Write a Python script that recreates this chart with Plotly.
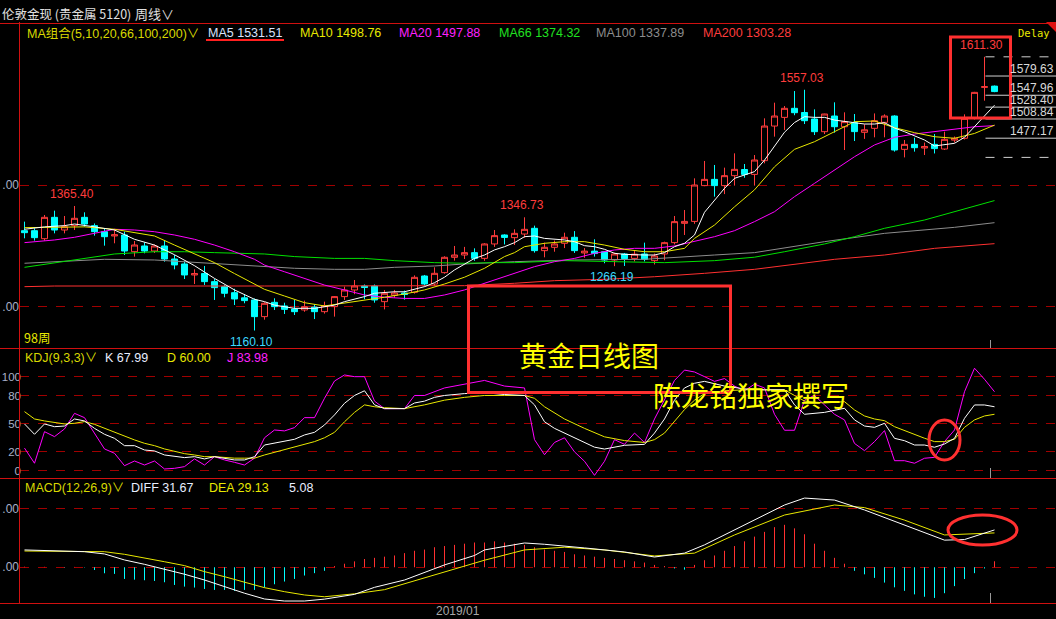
import plotly.graph_objects as go

# ------------------------------------------------------------------
# Weekly OHLC (London spot gold)
# ------------------------------------------------------------------
opens = [1324.7, 1324.7, 1311.5, 1346.7, 1325.8, 1333.0, 1346.7, 1333.0, 1323.1, 1316.0,
         1317.6, 1290.1, 1299.5, 1291.2, 1299.5, 1278.0, 1269.8, 1251.7, 1254.0, 1240.7,
         1232.4, 1222.5, 1214.0, 1210.5, 1183.0, 1206.6, 1200.6, 1195.5, 1194.0, 1198.6,
         1191.2, 1199.5, 1216.0, 1226.9, 1233.5, 1233.5, 1207.7, 1218.0, 1222.0, 1223.1,
         1250.0, 1236.8, 1255.5, 1280.8, 1284.6, 1288.5, 1279.1, 1302.8, 1317.6, 1313.2,
         1319.2, 1328.6, 1291.8, 1297.3, 1303.9, 1313.8, 1288.0, 1291.0, 1290.0, 1276.4,
         1286.3, 1279.0, 1286.3, 1275.3, 1286.3, 1305.0, 1336.8, 1340.0, 1399.0, 1409.3,
         1399.0, 1415.4, 1425.5, 1417.5, 1440.1, 1497.2, 1511.5, 1526.4, 1519.5, 1508.8,
         1487.9, 1513.7, 1496.0, 1502.8, 1486.8, 1493.4, 1503.3, 1513.7, 1458.8, 1467.0,
         1461.0, 1467.0, 1459.3, 1474.0, 1477.0, 1509.9, 1561.0, 1563.0]
highs = [1339.6, 1328.6, 1350.6, 1357.7, 1348.9, 1365.4, 1355.0, 1336.6, 1328.6, 1327.0,
         1323.1, 1307.7, 1305.5, 1302.0, 1309.4, 1284.6, 1273.6, 1261.0, 1266.5, 1245.0,
         1235.0, 1229.0, 1219.8, 1213.0, 1207.0, 1213.2, 1206.0, 1210.5, 1209.4, 1203.3,
         1207.7, 1217.0, 1232.4, 1243.4, 1236.0, 1236.0, 1226.9, 1227.0, 1226.0, 1251.0,
         1251.7, 1264.3, 1282.5, 1299.5, 1298.0, 1295.6, 1304.0, 1325.8, 1318.7, 1326.9,
         1346.73, 1333.0, 1305.0, 1308.5, 1321.4, 1324.0, 1296.0, 1310.5, 1290.5, 1288.5,
         1288.0, 1291.5, 1305.0, 1287.0, 1306.6, 1348.9, 1358.8, 1411.0, 1439.6, 1433.0,
         1428.6, 1452.2, 1434.6, 1449.4, 1509.9, 1535.7, 1530.2, 1554.9, 1557.03, 1524.7,
         1517.5, 1536.3, 1519.8, 1517.0, 1500.0, 1518.0, 1516.5, 1515.0, 1474.2, 1478.0,
         1470.0, 1484.0, 1487.9, 1480.0, 1516.5, 1553.5, 1611.30, 1564.0]
lows = [1312.1, 1308.3, 1308.3, 1320.3, 1320.3, 1325.8, 1331.3, 1316.5, 1300.0, 1303.9,
        1284.6, 1281.9, 1287.4, 1288.0, 1273.6, 1261.0, 1245.0, 1236.8, 1235.2, 1210.5,
        1214.9, 1202.2, 1205.0, 1160.10, 1178.0, 1194.0, 1187.4, 1185.7, 1191.0, 1179.0,
        1188.0, 1183.0, 1210.5, 1220.0, 1211.6, 1206.0, 1195.0, 1214.0, 1211.0, 1221.0,
        1233.0, 1234.0, 1253.8, 1275.3, 1278.0, 1275.0, 1275.0, 1298.0, 1302.0, 1301.1,
        1313.0, 1288.5, 1280.8, 1290.0, 1296.0, 1288.0, 1280.0, 1282.0, 1271.0, 1266.19,
        1266.5, 1274.0, 1274.0, 1269.0, 1276.0, 1302.0, 1317.6, 1336.0, 1398.0, 1380.8,
        1385.0, 1399.0, 1412.0, 1399.0, 1435.7, 1479.7, 1490.7, 1515.0, 1500.5, 1482.4,
        1484.0, 1486.3, 1457.7, 1472.5, 1476.0, 1478.6, 1478.6, 1455.0, 1445.5, 1455.0,
        1449.4, 1452.0, 1457.7, 1470.0, 1475.0, 1508.0, 1539.0, 1553.0]
closes = [1321.4, 1313.2, 1346.7, 1325.8, 1331.3, 1345.1, 1335.7, 1323.1, 1314.8, 1318.0,
          1291.2, 1301.1, 1291.2, 1299.5, 1278.0, 1268.2, 1251.7, 1254.0, 1240.7, 1230.8,
          1221.5, 1212.1, 1209.4, 1183.0, 1205.0, 1199.5, 1195.0, 1191.2, 1199.5, 1191.2,
          1201.1, 1216.0, 1226.9, 1233.5, 1231.0, 1210.5, 1221.5, 1222.0, 1219.5, 1247.8,
          1236.8, 1254.4, 1280.8, 1284.6, 1288.5, 1279.1, 1302.8, 1316.5, 1313.6, 1320.3,
          1326.9, 1291.8, 1297.3, 1302.8, 1313.8, 1291.8, 1291.0, 1287.0, 1276.4, 1286.3,
          1278.6, 1286.0, 1277.5, 1283.0, 1305.0, 1339.6, 1340.0, 1400.0, 1409.3, 1399.0,
          1415.4, 1425.8, 1417.5, 1441.2, 1497.2, 1513.7, 1526.4, 1519.2, 1506.0, 1487.9,
          1517.0, 1496.1, 1504.4, 1488.0, 1491.0, 1506.0, 1513.7, 1457.7, 1467.0, 1461.5,
          1463.5, 1460.0, 1475.3, 1477.0, 1509.9, 1552.7, 1562.0, 1554.0]
bars = list(range(len(closes)))

# ------------------------------------------------------------------
# Moving averages (bar index, value)
# ------------------------------------------------------------------
ma5_x = [0, 2, 4, 5, 7, 9, 11, 13, 15, 17, 19, 21, 23, 24, 25, 27, 29, 30, 31, 32, 34, 35, 37, 38, 39,
         40, 41, 42, 43, 44, 45, 46, 47, 48, 49, 50, 51, 52, 54, 55, 56, 57, 58, 59, 60, 62, 63, 64,
         65, 66, 67, 68, 69, 70, 71, 72, 73, 74, 75, 76, 77, 78, 79, 80, 81, 82, 83, 84, 85, 86, 87,
         88, 89, 90, 91, 92, 93, 94, 95, 96, 97]
ma5_v = [1327, 1331, 1333, 1335.7, 1331, 1325.8, 1310.5, 1301, 1285, 1267, 1246, 1227, 1211.6, 1207.7,
         1202, 1196.7, 1196.7, 1199.5, 1202, 1207.7, 1216, 1221.5, 1224, 1224, 1228, 1232.4, 1239,
         1248, 1260, 1269.8, 1279, 1284.6, 1293, 1298.3, 1305, 1314.8, 1316, 1312, 1309.4, 1306.6,
         1300, 1298.3, 1294, 1287.4, 1285.7, 1284.6, 1284.6, 1288.5, 1298.3, 1303.9, 1317.6, 1355,
         1375.3, 1394.5, 1411, 1416.5, 1422, 1441, 1463, 1487, 1503, 1512.6, 1511.5, 1511.5, 1507,
         1504.4, 1502.7, 1500.5, 1500.5, 1502.7, 1494, 1487.9, 1480.8, 1474.2, 1464.3, 1466, 1468.7,
         1478.6, 1496, 1512.6, 1531.51]
ma10_x = [0, 3, 6, 9, 11, 13, 15, 17, 19, 21, 23, 24, 26, 28, 30, 32, 34, 36, 38, 40, 42, 44, 46, 48,
          49, 50, 52, 54, 56, 58, 60, 62, 64, 66, 67, 69, 71, 73, 75, 77, 79, 81, 83, 85, 87, 89, 91,
          93, 95, 97]
ma10_v = [1329.7, 1330, 1331, 1327, 1321, 1316, 1301, 1287, 1272, 1254, 1237, 1228, 1217, 1206, 1200.6,
          1205, 1209.4, 1215, 1220.3, 1227, 1236.8, 1248, 1262.7, 1282, 1288.5, 1298.3, 1303.9, 1306.6,
          1306.6, 1301, 1294, 1290, 1290, 1295.6, 1312, 1334, 1364, 1392, 1430, 1458.8, 1471.4, 1488,
          1504.4, 1505.5, 1494.5, 1486.3, 1479.6, 1477, 1485, 1498.76]
ma20_x = [0, 3, 5, 7, 9, 11, 13, 15, 17, 19, 21, 23, 24, 26, 28, 30, 32, 34, 36, 38, 40, 42, 44, 46,
          48, 49, 51, 53, 55, 57, 59, 61, 63, 65, 67, 69, 71, 73, 75, 77, 79, 81, 83, 85, 87, 89, 91,
          93, 95, 97]
ma20_v = [1305, 1309.4, 1313.8, 1320.3, 1327, 1325.8, 1323, 1317.6, 1310.5, 1301, 1290, 1277.5, 1268,
          1257, 1246, 1235, 1227, 1218.7, 1215, 1213, 1213, 1218.7, 1227, 1238, 1250, 1255, 1265.4,
          1273.6, 1279, 1287.4, 1292.9, 1295.6, 1295.6, 1299.5, 1306.6, 1314.8, 1324.7, 1339.6, 1356,
          1380.8, 1402.7, 1424.7, 1446.6, 1466, 1478.6, 1484, 1487.9, 1491.8, 1496, 1497.88]
ma66_x = [0, 3, 6, 9, 13, 16, 19, 24, 27, 31, 34, 37, 41, 44, 47, 49, 54, 59, 64, 69, 73, 76, 80, 83,
          86, 90, 93, 97]
ma66_v = [1264.3, 1272, 1279.2, 1286.3, 1290, 1290, 1288.5, 1286.3, 1282, 1279, 1279, 1275.3, 1272,
          1271, 1272, 1272, 1275.3, 1273.6, 1272, 1275.3, 1281, 1290, 1302.8, 1314.8, 1328.6, 1342.3,
          1356, 1374.32]
ma100_x = [0, 3, 8, 13, 16, 19, 24, 27, 31, 34, 37, 41, 44, 49, 55, 62, 69, 73, 80, 86, 93, 97]
ma100_v = [1271, 1273.6, 1277.5, 1276.4, 1273.6, 1271, 1266.5, 1262.7, 1261, 1261, 1264.3, 1266.5,
           1269.8, 1273.6, 1276.4, 1277.5, 1284.6, 1288.5, 1306.6, 1320.3, 1330.2, 1337.89]
ma200_x = [0, 3, 24, 34, 44, 49, 53, 58, 63, 68, 73, 81, 86, 91, 97]
ma200_v = [1232.4, 1233.5, 1233.5, 1233.5, 1234, 1238, 1242.3, 1244.5, 1248.8, 1254.4, 1261, 1277.5,
           1284.6, 1295.6, 1303.28]

# ------------------------------------------------------------------
# KDJ(9,3,3) (bar index, value)
# ------------------------------------------------------------------
k_x = [0, 1, 2, 3, 4, 5, 6, 7, 8, 9, 10, 11, 12, 13, 14, 15, 16, 17, 18, 19, 20, 21, 22, 23, 24, 25,
       26, 27, 28, 29, 30, 31, 32, 33, 34, 35, 36, 37, 38, 39, 40, 41, 42, 44, 46, 48, 50, 51, 52, 53,
       55, 57, 58, 60, 62, 63, 64, 65, 66, 67, 68, 70, 72, 74, 76, 77, 78, 80, 82, 83, 84, 85, 86, 87,
       88, 89, 90, 91, 92, 93, 94, 95, 96, 97]
k_v = [49.7, 38.7, 49.7, 46.8, 47.5, 55, 52.9, 45, 38.7, 34.4, 26.6, 26.6, 22, 21, 16.7, 14.9, 13.9,
       14.9, 12.5, 14.9, 13.3, 11.4, 11.4, 14.9, 27.3, 29.1, 30.9, 33.4, 38, 40.8, 48.6, 59.3, 71.7, 80,
       85, 70, 66, 66, 66, 72, 74, 78, 80, 82, 83, 81, 80, 70, 52, 45, 35, 25, 23, 27, 28, 40, 55, 75,
       88, 93, 95, 90, 87, 86, 86, 70, 60, 62, 66.4, 54, 47.5, 46.1, 50.4, 34.4, 31.9, 27.3, 27.3, 24.9,
       28.4, 34.4, 55.7, 69.9, 69.9, 67.99]
d_x = [0, 1, 2, 3, 4, 5, 6, 7, 8, 9, 10, 11, 12, 13, 14, 15, 16, 17, 18, 19, 20, 21, 22, 23, 24, 25,
       26, 27, 28, 29, 30, 31, 32, 33, 34, 35, 36, 38, 40, 42, 44, 46, 48, 50, 51, 52, 54, 56, 58, 60,
       62, 63, 64, 65, 66, 67, 68, 70, 72, 74, 76, 77, 78, 80, 82, 83, 84, 85, 86, 87, 88, 89, 90, 91,
       92, 93, 94, 95, 96, 97]
d_v = [62.8, 55, 52.9, 51.5, 49.7, 50.4, 52.2, 49.3, 45, 40.8, 36.2, 32.7, 29.1, 26.6, 23.1, 20.2,
       18.1, 16.7, 14.9, 14.9, 13.9, 13.3, 13.3, 13.3, 16.7, 19.5, 22, 25.5, 28, 30.9, 35, 40.8, 52, 62,
       70, 68, 67, 66, 70, 75, 78, 80, 80, 80, 77, 68, 55, 45, 36, 32, 30, 33, 40, 52, 65, 75, 82, 85,
       86, 86, 86, 80, 74, 72, 73.4, 64.6, 58.2, 55, 53.2, 46.8, 42.6, 38, 34.5, 30.9, 30.9, 33.4, 46.1,
       54, 58.2, 60.0]
j_x = [0, 1, 2, 3, 4, 5, 6, 7, 8, 9, 10, 11, 12, 13, 14, 15, 16, 17, 18, 19, 20, 21, 22, 23, 24, 25,
       26, 27, 28, 29, 30, 31, 32, 33, 34, 35, 36, 37, 38, 39, 40, 42, 44, 46, 48, 50, 51, 52, 53, 54,
       55, 56, 57, 58, 59, 60, 61, 62, 63, 64, 65, 66, 67, 68, 69, 70, 71, 72, 73, 74, 75, 76, 77, 78,
       79, 80, 81, 82, 83, 84, 85, 86, 87, 88, 89, 90, 91, 92, 93, 94, 95, 96, 97]
j_v = [24, 7.9, 41.5, 36.2, 44.4, 61, 56.4, 39.8, 23.1, 18.5, 5.3, 10.3, 6, 10.3, 1.8, 2.5, 4.3, 12.5,
       6, 14.9, 11.4, 8.9, 6, 13.3, 35, 43.3, 42.3, 45.8, 56.4, 56.4, 77, 95.4, 101.8, 100, 100, 74, 66,
       66, 66, 80, 80, 88, 92, 96, 90, 88, 33, 17, 30, 35, 20, 10, -5, 10, 33, 28, 40, 30, 55, 75, 96,
       107, 105, 100, 95, 98, 90, 85, 92, 88, 60, 43, 43, 75, 80, 70, 60, 54, 29, 21.3, 30.9, 42.6,
       10.6, 10.6, 7.9, 13.2, 14.2, 30.9, 43.3, 84, 109, 97.2, 83.98]

# ------------------------------------------------------------------
# MACD(12,26,9)
# ------------------------------------------------------------------
diff_x = [0, 6, 8, 10, 12, 14, 16, 18, 20, 22, 24, 26, 28, 30, 33, 35, 38, 42, 45, 46, 50, 52, 56, 60,
          63, 66, 68, 72, 76, 78, 81, 84, 88, 92, 94, 97]
diff_v = [14.7, 13.2, 11.3, 6.2, 2.5, -1.4, -5.9, -10.8, -16.4, -22, -26.9, -28.6, -28.6, -27, -23,
          -17, -10.8, 2, 10, 14.7, 20.6, 19.5, 16.4, 13, 8.7, 12, 19, 36, 52.8, 58.7, 57, 48.6, 36, 23,
          23.5, 31.67]
dea_x = [0, 8, 10, 12, 14, 16, 18, 20, 22, 24, 26, 28, 30, 33, 36, 41, 46, 50, 54, 58, 63, 67, 71, 76,
         81, 84, 88, 92, 97]
dea_v = [13.8, 13.2, 11, 8.1, 4.7, 1.4, -3.7, -8, -12.7, -17.3, -20.7, -23.5, -25, -22.5, -19, -6.5, 6,
         14.7, 17, 14.7, 9.6, 12, 27.4, 44.3, 52.8, 50.6, 40, 27.4, 29.13]
macd_hist = [0.5, 0, 0.4, 0, -0.3, 0.3, -0.3, -2.3, -5.1, -5.6, -9.9, -10.5, -11, -11.6, -12.7, -15,
             -16.4, -17.2, -18.4, -19.2, -19.2, -20, -19.2, -19.2, -17.2, -14.4, -12.1, -9.9, -7, -5,
             -3, 1, 3, 5, 7, 8, 9, 10, 12, 14, 15, 17, 18, 19, 20, 21, 21, 22, 21, 20, 19, 17, 15, 14,
             13, 11, 10, 9, 8, 7, 6, 5, 4, 2, 1, -1, -2, 2, 6, 10, 14, 18, 22, 26, 30, 34, 36, 33, 28,
             20, 14, 8, 3, -3, -6, -9, -13, -17, -20, -23, -25, -26, -22, -16, -10, -5, -1, 5.08]

# golden-section levels drawn at the right edge
fib_levels = [1611.30, 1579.63, 1547.96, 1528.40, 1508.84, 1477.17, 1445.50]
fib_labels = ["", "1579.63", "1547.96", "1528.40", "1508.84", "1477.17", ""]

# marked extremes: (bar, price, text, colour, above?)
extremes = [(5, 1365.40, "1365.40", "#ff3c3c", True),
            (23, 1160.10, "1160.10", "#3cd8ff", False),
            (50, 1346.73, "1346.73", "#ff3c3c", True),
            (59, 1266.19, "1266.19", "#3cd8ff", False),
            (78, 1557.03, "1557.03", "#ff3c3c", True),
            (96, 1611.30, "1611.30", "#ff3c3c", True)]

# ------------------------------------------------------------------
# Layout geometry (pixels)
# ------------------------------------------------------------------
W, H = 1056, 619
ML, MR, MT, MB = 20, 0, 22, 16
PW, PH = W - ML - MR, H - MT - MB


def fx(px):
    return (px - ML) / PW


def fy(py):
    return (H - MB - py) / PH


RED = "#d01010"
GRID = "#a00000"
FONT = "Liberation Sans, Noto Sans CJK SC, sans-serif"
CJK = "Noto Sans CJK SC, sans-serif"

fig = go.Figure()

# candles
fig.add_trace(go.Candlestick(
    x=bars, open=opens, high=highs, low=lows, close=closes,
    xaxis="x", yaxis="y", whiskerwidth=0,
    increasing=dict(line=dict(color="#ff3c3c", width=1), fillcolor="#000000"),
    decreasing=dict(line=dict(color="#00ffff", width=1), fillcolor="#00ffff"),
    hoverinfo="skip", showlegend=False))


def line(xs, ys, color, axis="y", width=1):
    fig.add_trace(go.Scatter(x=xs, y=ys, mode="lines", yaxis=axis, xaxis="x",
                             line=dict(color=color, width=width), hoverinfo="skip",
                             showlegend=False))


line(ma200_x, ma200_v, "#ff3030")
line(ma100_x, ma100_v, "#8c8c8c")
line(ma66_x, ma66_v, "#00e000")
line(ma20_x, ma20_v, "#ff00ff")
line(ma10_x, ma10_v, "#e8e800")
line(ma5_x, ma5_v, "#ffffff")

# KDJ
line(j_x, j_v, "#ff00ff", "y2")
line(d_x, d_v, "#e8e800", "y2")
line(k_x, k_v, "#ffffff", "y2")

# MACD histogram as thin sticks
pos_x, pos_y, neg_x, neg_y = [], [], [], []
for i, v in zip(bars, macd_hist):
    if v >= 0:
        pos_x += [i, i, None]
        pos_y += [0, v, None]
    else:
        neg_x += [i, i, None]
        neg_y += [0, v, None]
line(pos_x, pos_y, "#ff3030", "y3")
line(neg_x, neg_y, "#00ffff", "y3")
line(dea_x, dea_v, "#e8e800", "y3")
line(diff_x, diff_v, "#ffffff", "y3")

shapes = []
annotations = []


def hline(py, x0=0, x1=W, color=RED, width=1, dash="solid"):
    shapes.append(dict(type="line", xref="paper", yref="paper", x0=fx(x0), x1=fx(x1),
                       y0=fy(py), y1=fy(py), line=dict(color=color, width=width, dash=dash)))


def vline(px, y0, y1, color=RED, width=1):
    shapes.append(dict(type="line", xref="paper", yref="paper", x0=fx(px), x1=fx(px),
                       y0=fy(y0), y1=fy(y1), line=dict(color=color, width=width)))


def text(px, py, s, color, size=12, anchor="left", family=FONT):
    annotations.append(dict(xref="paper", yref="paper", x=fx(px), y=fy(py), text=s,
                            showarrow=False, xanchor=anchor, yanchor="middle",
                            font=dict(color=color, size=size, family=family)))


# panel frame
hline(23.5, 0, W)
hline(348.5)
hline(478.5)
hline(603.5, 0, W)
vline(19.5, 22, 603)
shapes.append(dict(type="path", xref="paper", yref="paper",
                   path=f"M {fx(1046)} {fy(22)} L {fx(1056)} {fy(22)} L {fx(1056)} {fy(32)} Z",
                   fillcolor="#e01010", line=dict(width=0)))
# cursor marks
for a, b in [(340, 348), (468, 478), (593, 603)]:
    vline(990.5, a, b, color="#9a9a9a")

# golden-section level lines on the right
for lv, lb in zip(fib_levels, fib_labels):
    dash = "dash" if lb == "" else "solid"
    shapes.append(dict(type="line", xref="x", yref="y", x0=96.1, x1=103.2, y0=lv, y1=lv,
                       line=dict(color="#d0d0d0", width=1, dash=dash)))
    if lb:
        annotations.append(dict(xref="paper", yref="y", x=fx(1056), y=lv, text=lb, showarrow=False,
                                xanchor="right", yanchor="middle", yshift=7,
                                font=dict(color="#d8d8d8", size=12, family=FONT)))

# extremes
for b, p, s, c, up in extremes:
    annotations.append(dict(xref="x", yref="y", x=b, y=p, text=s, showarrow=False,
                            xanchor="center", yanchor="bottom" if up else "top",
                            xshift=-3, yshift=3 if up else -2,
                            font=dict(color=c, size=12, family=FONT)))

# header line
text(0, 14, "伦敦金现 (贵金属 5120)", "#e0e0e0", 12.5, family=CJK)
text(133, 14, "周线∨", "#e0e0e0", 13, family=CJK)
# MA legend
text(25, 33, "MA组合(5,10,20,66,100,200)∨", "#d8d800", 12.5)
text(206, 33, "MA5 1531.51", "#d8e4ff", 12.5)
text(298, 33, "MA10 1498.76", "#e8e800", 12.5)
text(397, 33, "MA20 1497.88", "#ff20ff", 12.5)
text(497, 33, "MA66 1374.32", "#20e020", 12.5)
text(594, 33, "MA100 1337.89", "#8c8c8c", 12.5)
text(701, 33, "MA200 1303.28", "#ff3c3c", 12.5)
text(1016, 33, "Delay", "#e8e800", 10.5, family="DejaVu Sans Mono")
hline(40, 206, 284, color="#ff2020", width=2)
text(22, 338, "98周", "#e8e800", 12.5, family=CJK)
# KDJ legend
text(23, 358, "KDJ(9,3,3)∨", "#d8d800", 12.5)
text(103, 358, "K 67.99", "#e8eeff", 12.5)
text(165, 358, "D 60.00", "#e8e800", 12.5)
text(225, 358, "J 83.98", "#ff20ff", 12.5)
# MACD legend
text(23, 488, "MACD(12,26,9)∨", "#d8d800", 12.5)
text(129, 488, "DIFF 31.67", "#e8eeff", 12.5)
text(207, 488, "DEA 29.13", "#e8e800", 12.5)
text(287, 488, "5.08", "#e8eeff", 12.5)
# date
text(458, 611, "2019/01", "#a8a8a8", 12, anchor="center")

# hand-drawn red marks
MARK = "#ff3030"
shapes.append(dict(type="rect", xref="paper", yref="paper", x0=fx(950.5), x1=fx(1010.5),
                   y0=fy(37), y1=fy(118), line=dict(color=MARK, width=3)))
shapes.append(dict(type="rect", xref="paper", yref="paper", x0=fx(468.5), x1=fx(730.5),
                   y0=fy(286), y1=fy(392.5), line=dict(color=MARK, width=3)))
shapes.append(dict(type="circle", xref="paper", yref="paper", x0=fx(929), x1=fx(960),
                   y0=fy(420), y1=fy(460), line=dict(color=MARK, width=3)))
shapes.append(dict(type="circle", xref="paper", yref="paper", x0=fx(948), x1=fx(1017),
                   y0=fy(515), y1=fy(545), line=dict(color=MARK, width=3)))
text(589, 355, "黄金日线图", "#ffff00", 28, anchor="center", family=CJK)
text(751, 395, "陈龙铭独家撰写", "#ffff00", 28, anchor="center", family=CJK)

axis_font = dict(color="#a8b0c8", size=12, family=FONT)
fig.update_layout(
    width=W, height=H, margin=dict(l=ML, r=MR, t=MT, b=MB),
    paper_bgcolor="#000000", plot_bgcolor="#000000",
    showlegend=False, hovermode=False, boxgap=0.14,
    xaxis=dict(range=[-0.45, 103.15], domain=[0, 1], anchor="y3", showticklabels=False,
               showgrid=False, zeroline=False, showline=False, ticks="",
               rangeslider=dict(visible=False), fixedrange=True),
    yaxis=dict(domain=[fy(348), 1], range=[1131.3, 1668.7], tickvals=[1200, 1400],
               ticktext=[".00", ".00"], showgrid=True, gridcolor=GRID, griddash="dash",
               zeroline=False, showline=False, ticks="", tickfont=axis_font, automargin=False,
               anchor="x"),
    yaxis2=dict(domain=[fy(478), fy(348)], range=[-7.8, 130.5], tickvals=[0, 20, 50, 80, 100],
                ticktext=["0", "20", "50", "80", "100"], showgrid=True, gridcolor=GRID,
                griddash="dash", zeroline=False, showline=False, ticks="",
                tickfont=dict(color="#a8b0c8", size=11.5, family=FONT), ticklabelstandoff=-2,
                automargin=False, anchor="x"),
    yaxis3=dict(domain=[0, fy(478)], range=[-30.3, 75.7], tickvals=[0, 50],
                ticktext=[".00", ".00"], showgrid=True, gridcolor=GRID, griddash="dash",
                zeroline=False, showline=False, ticks="", tickfont=axis_font, automargin=False,
                anchor="x"),
    shapes=shapes, annotations=annotations,
)

fig.write_html("out.html", config=dict(displayModeBar=False, staticPlot=True),
               post_script="document.body.style.margin='0';document.body.style.padding='0';")
